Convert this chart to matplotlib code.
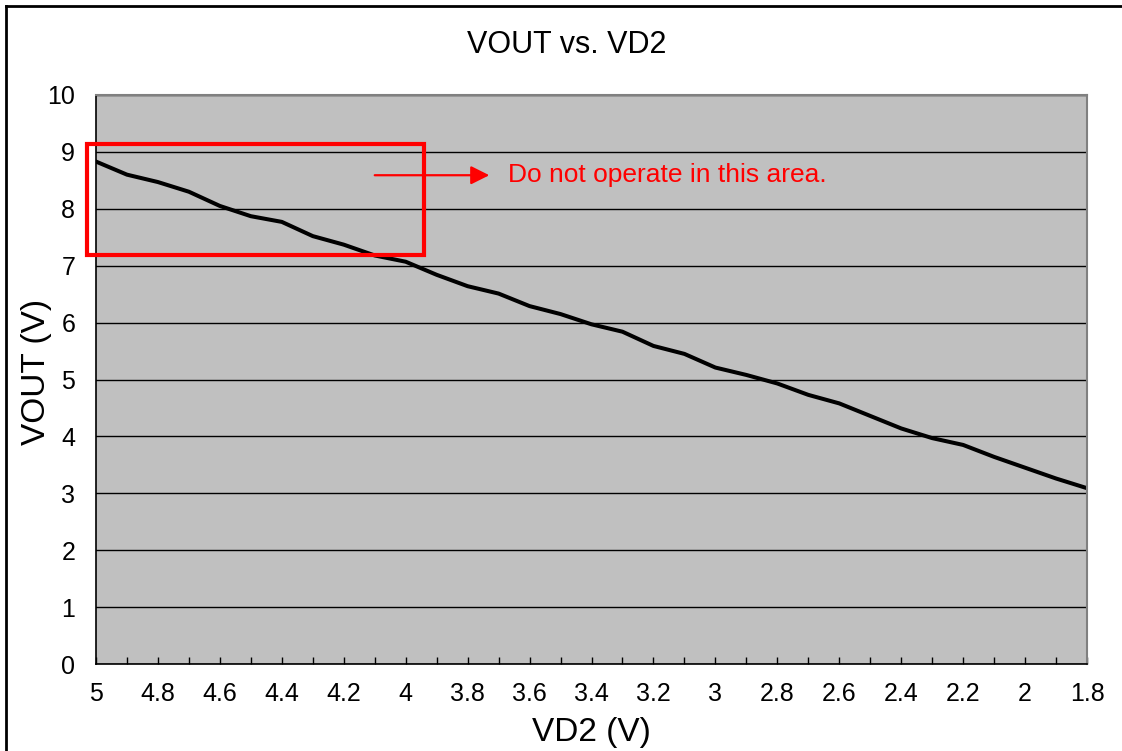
import matplotlib
matplotlib.use('Agg')
import matplotlib.pyplot as plt
from matplotlib.lines import Line2D
from matplotlib.patches import Rectangle
import numpy as np

plt.rcParams['font.family'] = ['Liberation Sans', 'DejaVu Sans']

# VD2 sweep (V) and measured VOUT (V)
vd2 = [5.0, 4.9, 4.8, 4.7, 4.6, 4.5, 4.4, 4.3, 4.2, 4.1, 4.0,
       3.9, 3.8, 3.7, 3.6, 3.5, 3.4, 3.3, 3.2, 3.1, 3.0,
       2.9, 2.8, 2.7, 2.6, 2.5, 2.4, 2.3, 2.2, 2.1, 2.0, 1.9, 1.8]
vout = [8.83, 8.60, 8.47, 8.30, 8.05, 7.87, 7.77, 7.52, 7.37, 7.18, 7.07,
        6.84, 6.64, 6.51, 6.29, 6.15, 5.97, 5.84, 5.59, 5.45, 5.21,
        5.08, 4.93, 4.73, 4.58, 4.36, 4.14, 3.97, 3.85, 3.64, 3.45, 3.26, 3.09]

# keep-out region (VD2 range, VOUT range)
zone_x = [5.03, 3.94]
zone_y = [7.19, 9.14]
note = 'Do not operate in this area.'

fig = plt.figure(figsize=(11.22, 7.51), dpi=100)
ax = fig.add_axes([96 / 1122, 1 - 664 / 751, (1087 - 96) / 1122, (664 - 95) / 751])

ax.set_facecolor('#c0c0c0')
ax.set_xlim(5, 1.8)
ax.set_ylim(0, 10)
ax.set_yticks(np.arange(0, 11, 1))
ax.set_xticks(np.round(np.arange(5, 1.79, -0.2), 1))
ax.set_xticks(np.round(np.arange(5, 1.79, -0.1), 1), minor=True)
ax.xaxis.set_major_formatter(plt.FormatStrFormatter('%g'))
ax.grid(axis='y', color='black', linewidth=1.0)
ax.set_axisbelow(True)

ax.tick_params(axis='x', which='both', direction='in', length=5, width=1,
               labelsize=18, pad=13)
ax.tick_params(axis='y', length=0, labelsize=18, pad=15)

for side in ['left', 'bottom']:
    ax.spines[side].set_color('black')
    ax.spines[side].set_linewidth(1.2)
for side in ['top', 'right']:
    ax.spines[side].set_color('#808080')
    ax.spines[side].set_linewidth(1.5)

ax.plot(vd2, vout, color='black', linewidth=2.9, solid_joinstyle='round')

ax.add_patch(Rectangle((zone_x[0], zone_y[0]), zone_x[1] - zone_x[0],
                       zone_y[1] - zone_y[0], fill=False, edgecolor='#ff0000',
                       linewidth=3, clip_on=False, zorder=5))
ax.annotate('', xy=(3.73, 8.59), xytext=(4.10, 8.59),
            arrowprops=dict(arrowstyle='-|>', color='#ff0000', lw=1.6,
                            mutation_scale=28, shrinkA=0, shrinkB=0))
ax.text(3.67, 8.59, note, color='#ff0000', fontsize=19, ha='left', va='center')

fig.text(567 / 1122, 1 - 45 / 751, 'VOUT vs. VD2', fontsize=22,
         ha='center', va='center')
fig.text(37 / 1122, 1 - 372 / 751, 'VOUT (V)', fontsize=24, rotation=90,
         ha='center', va='center')
fig.text(591 / 1122, 1 - 733 / 751, 'VD2 (V)', fontsize=24,
         ha='center', va='center')

# outer chart frame
fig.add_artist(Line2D([6 / 1122, 6 / 1122], [0, 1 - 6 / 751],
                      transform=fig.transFigure, color='black', linewidth=2))
fig.add_artist(Line2D([6 / 1122, 1], [1 - 6 / 751, 1 - 6 / 751],
                      transform=fig.transFigure, color='black', linewidth=2))

fig.savefig('out.png', dpi=100)
